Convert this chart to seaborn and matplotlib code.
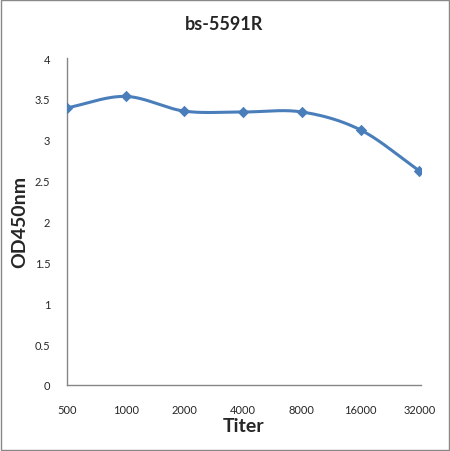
import numpy as np
import pandas as pd
import matplotlib
matplotlib.use("Agg")
import matplotlib.pyplot as plt
import seaborn as sns
from matplotlib.patches import Rectangle

titers = ["500", "1000", "2000", "4000", "8000", "16000", "32000"]
od450 = [3.39, 3.53, 3.35, 3.34, 3.34, 3.12, 2.62]
y_ticks = [0, 0.5, 1, 1.5, 2, 2.5, 3, 3.5, 4]
y_tick_labels = ["0", "0.5", "1", "1.5", "2", "2.5", "3", "3.5", "4"]

sns.set_style("white")
plt.rcParams['font.family'] = ['Lato', 'DejaVu Sans']

df = pd.DataFrame({"pos": np.arange(len(titers)), "od": od450})

def catmull_rom(x, y, n=30):
    x = np.asarray(x, float); y = np.asarray(y, float)
    px = np.concatenate([[2*x[0]-x[1]], x, [2*x[-1]-x[-2]]])
    py = np.concatenate([[2*y[0]-y[1]], y, [2*y[-1]-y[-2]]])
    xs, ys = [], []
    for i in range(1, len(px)-2):
        t = np.linspace(0, 1, n, endpoint=False)
        for P, out in ((px, xs), (py, ys)):
            p0, p1, p2, p3 = P[i-1], P[i], P[i+1], P[i+2]
            out.append(0.5*((2*p1) + (-p0+p2)*t + (2*p0-5*p1+4*p2-p3)*t**2 + (-p0+3*p1-3*p2+p3)*t**3))
    xs.append([x[-1]]); ys.append([y[-1]])
    return np.concatenate(xs), np.concatenate(ys)

fig = plt.figure(figsize=(4.5, 4.52), dpi=100)
ax = fig.add_axes([67/450, 66/452, (421-67)/450, (386-59)/452])

sx, sy = catmull_rom(df["pos"], df["od"])
smooth = pd.DataFrame({"x": sx, "y": sy})
color = "#4A7EBB"
sns.lineplot(data=smooth, x="x", y="y", ax=ax, color=color, linewidth=2.2, sort=False, estimator=None)
sns.scatterplot(data=df, x="pos", y="od", ax=ax, color=color, marker="D", s=34, edgecolor=color, linewidth=0, zorder=5)

ax.set_xlim(0, 6.03)
ax.set_ylim(0, 4)
ax.set_xticks(range(len(titers)))
ax.set_xticklabels(titers, fontsize=8)
ax.set_yticks(y_ticks)
ax.set_yticklabels(y_tick_labels, fontsize=8)
ax.tick_params(axis='x', length=0, pad=14)
ax.tick_params(axis='y', length=0, pad=12)
for s in ["top", "right"]:
    ax.spines[s].set_visible(False)
for s in ["left", "bottom"]:
    ax.spines[s].set_color("#868686")
    ax.spines[s].set_linewidth(1.0)
ax.set_xlabel("")
ax.set_ylabel("")

fig.text(224/450, 1 - 25/452, "bs-5591R", ha="center", va="center", fontsize=13, fontweight="bold")
fig.text(244/450, 1 - 427/452, "Titer", ha="center", va="center", fontsize=14, fontweight="bold")
fig.text(20/450, 1 - 222/452, "OD450nm", ha="center", va="center", rotation=90, fontsize=14, fontweight="bold")

fig.patches.append(Rectangle((1/450, 1/452), 448/450, 450/452, transform=fig.transFigure,
                             fill=False, edgecolor="#888888", linewidth=1.0))

fig.savefig("out.png", dpi=100)
